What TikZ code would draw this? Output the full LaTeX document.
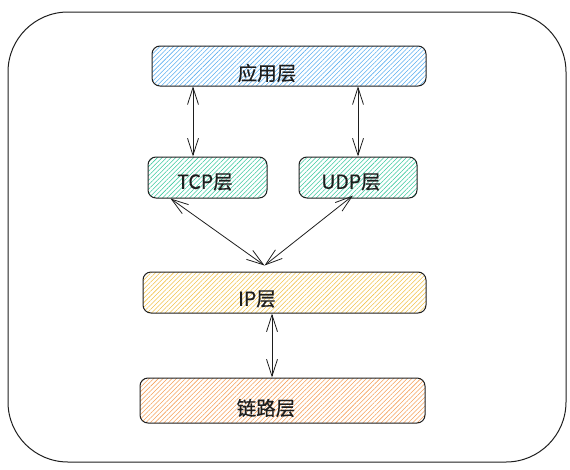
\documentclass[tikz,border=0pt]{standalone}
\usepackage{fontspec}
\setmainfont{Noto Sans CJK SC}[FakeBold=0.6]
\usetikzlibrary{arrows.meta,patterns.meta}
\definecolor{cblue}{HTML}{5AAEF0}
\definecolor{cteal}{HTML}{3CC9A0}
\definecolor{cyel}{HTML}{F2C24A}
\definecolor{corg}{HTML}{F5A05A}
\definecolor{ink}{HTML}{1E1E1E}
\tikzset{
  layer/.style={draw=ink, line width=1pt, rounded corners=8pt, inner sep=0pt},
  lbl/.style={text=ink, font=\fontsize{19.5}{22}\selectfont, inner sep=0pt},
  hatch/.style={pattern={Lines[angle=45,distance=3.2pt,line width=0.55pt]}, pattern color=#1},
  arr/.style={draw=ink, line width=0.8pt, {Straight Barb[length=17pt,width=11pt]}-{Straight Barb[length=17pt,width=11pt]}}
}
\begin{document}
\begin{tikzpicture}[x=1pt,y=-1pt]
\useasboundingbox (0,0) rectangle (570,469);
\draw[draw=ink, line width=1pt, rounded corners=60pt] (8,12) rectangle (566,462);
% boxes
\node[layer, hatch=cblue, minimum width=274pt, minimum height=40pt] (app) at (289,66) {};
\node[lbl] (appt) at (267,73) {应用层};
\node[layer, hatch=cteal, minimum width=119pt, minimum height=41pt] (tcp) at (207.5,177.5) {};
\node[lbl] (tcpt) at (205,182) {TCP层};
\node[layer, hatch=cteal, minimum width=118pt, minimum height=41pt] (udp) at (358,177.5) {};
\node[lbl] (udpt) at (351,182) {UDP层};
\node[layer, hatch=cyel, minimum width=283pt, minimum height=41pt] (ip) at (284.5,292.5) {};
\node[lbl] (ipt) at (257,299) {IP层};
\node[layer, hatch=corg, minimum width=285pt, minimum height=45pt] (link) at (282.5,400.5) {};
\node[lbl] (linkt) at (266,408) {链路层};
% arrows
\draw[arr] ([xshift=-14.5pt]tcp.north |- app.south) -- ([xshift=-14.5pt]tcp.north);
\draw[arr] ([xshift=0pt]udp.north |- app.south) -- ([xshift=0pt]udp.north);
\draw[arr] ([xshift=-37pt]tcp.south) -- ([xshift=-20pt,yshift=6pt]ip.north);
\draw[arr] ([xshift=-5pt,yshift=3pt]udp.south) -- ([xshift=-20pt,yshift=6pt]ip.north);
\draw[arr] ([xshift=-12.5pt]ip.south) -- ([xshift=-12.5pt]ip.south |- link.north);
\end{tikzpicture}
\end{document}
